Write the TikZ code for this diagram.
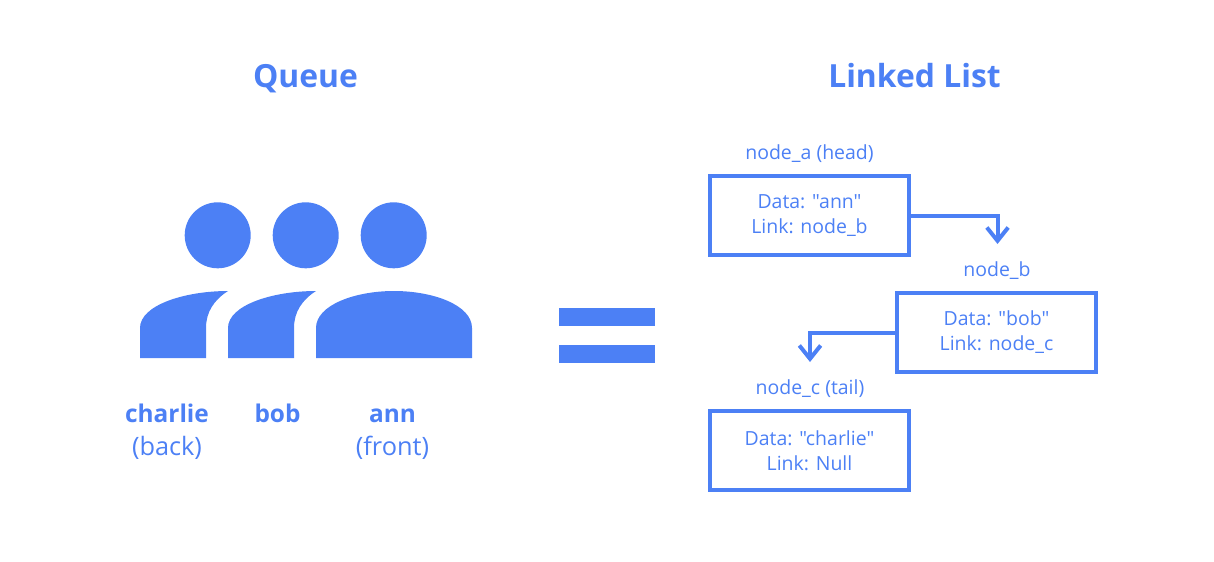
\documentclass[tikz,border=0pt]{standalone}
\usepackage{fontspec}
\setmainfont[Ligatures=TeXOff]{Open Sans}
\usepackage{xcolor}
\usetikzlibrary{positioning,arrows.meta}
\definecolor{qblue}{HTML}{4C80F5}
\newcommand{\us}{\char`_}
\tikzset{
    bigtitle/.style={text=qblue, anchor=base, font=\bfseries\fontsize{23.9}{28}\selectfont},
    person/.style={text=qblue, anchor=base, font=\bfseries\fontsize{18.3}{24}\selectfont, inner sep=0pt},
    role/.style={text=qblue, anchor=base, font=\fontsize{19}{24}\selectfont, inner sep=0pt},
    headdot/.style={circle, fill=qblue, inner sep=0pt, minimum size=49.5pt},
    listbox/.style={draw=qblue, line width=3pt, rectangle, minimum width=149.25pt, minimum height=59.25pt, text=qblue, align=center, inner sep=0pt, font=\fontsize{14.6}{18.7}\selectfont},
    boxname/.style={text=qblue, inner sep=0pt, anchor=base, font=\fontsize{14.6}{18}\selectfont},
    link/.style={draw=qblue, line width=3pt, -{Straight Barb[length=10pt, width=16pt, line width=3pt]}},
    bar/.style={rectangle, fill=qblue, inner sep=0pt, minimum width=72pt, minimum height=13.5pt}
}
\begin{document}
\begin{tikzpicture}[x=0.75pt, y=-0.75pt]
    \useasboundingbox (0,0) rectangle (1214,561);

    \node (queue) [bigtitle] at (305.5,87.5) {Queue};
    \node (list) [bigtitle] at (914.5,87.5) {Linked List};

    % people
    \node (head_c) [headdot] at (217.7,235.3) {};
    \node (head_b) [headdot] at (305.7,235.3) {};
    \node (head_a) [headdot] at (393.7,235.3) {};
    \fill[qblue] (140,358) -- (140,328) .. controls (140,305) and (185,291) .. (228,291)
        .. controls (214,300) and (206,312) .. (206,328) -- (206,358) -- cycle;
    \fill[qblue] (228,358) -- (228,328) .. controls (228,305) and (273,291) .. (316,291)
        .. controls (302,300) and (294,312) .. (294,328) -- (294,358) -- cycle;
    \fill[qblue] (316,358) -- (316,328) .. controls (316,305) and (355,291) .. (394,291)
        .. controls (433,291) and (472,305) .. (472,328) -- (472,358) -- cycle;

    \node (charlie) [person] at (167,422.5) {charlie};
    \node (bob) [person] at (277.5,422.5) {bob};
    \node (ann) [person] at (392.5,422.5) {ann};
    \node (back) [role] at (167,455.5) {(back)};
    \node (front) [role] at (392.5,455.5) {(front)};

    % equals
    \node (bar_top) [bar] at (607,317) {};
    \node (bar_bottom) [bar] at (607,354) {};

    % list
    \node (box_a) [listbox] at (809.5,215.5) {Data: "ann"\\Link: node\us b};
    \node (box_b) [listbox] at (996.5,332.5) {Data: "bob"\\Link: node\us c};
    \node (box_c) [listbox] at (809.5,450.5) {Data: "charlie"\\Link: Null};
    \node (name_a) [boxname] at (809.5,159) {node\us a (head)};
    \node (name_b) [boxname] at (997,276) {node\us b};
    \node (name_c) [boxname] at (810,394) {node\us c (tail)};

    \coordinate (end_a) at (997.5,244);
    \coordinate (end_b) at (810,362);
    \draw[link] (box_a.east) -| (end_a);
    \draw[link] (box_b.west) -| (end_b);
\end{tikzpicture}
\end{document}
